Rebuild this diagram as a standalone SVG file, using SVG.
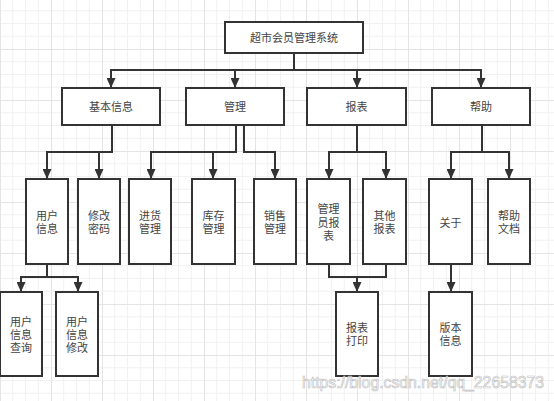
<svg xmlns="http://www.w3.org/2000/svg" width="554" height="401" viewBox="0 0 554 401">
<defs>
<pattern id="grid" patternUnits="userSpaceOnUse" x="0" y="-2" width="51" height="51">
<path d="M12.75,0V51M25.5,0V51M38.25,0V51M0,12.75H51M0,25.5H51M0,38.25H51" stroke="#f1f1f1" stroke-width="1" fill="none"/>
<path d="M0.5,0V51M0,0.5H51" stroke="#e4e4e4" stroke-width="1" fill="none"/>
</pattern>
<marker id="arr" markerUnits="userSpaceOnUse" markerWidth="10" markerHeight="9" refX="10" refY="4.5" orient="auto">
<path d="M0,0L10,4.5L0,9z" fill="#333"/>
</marker>
<style>
.box{fill:#fff;stroke:#333;stroke-width:2}
.t{font-family:"Liberation Sans","Noto Sans CJK SC",sans-serif;font-size:11px;fill:#444;text-anchor:middle}
.c{fill:none;stroke:#333;stroke-width:2}
.a{marker-end:url(#arr)}
.wm{font-family:"Liberation Sans",Arial,sans-serif;font-size:16px;fill:#fff;fill-opacity:0.5;stroke:#c4c4c4;stroke-width:0.7}
</style>
</defs>
<rect width="554" height="401" fill="#fff"/>
<rect width="554" height="401" fill="url(#grid)"/>

<g id="connectors">
<path class="c a" d="M294,53V70H111V88"/>
<path class="c a" d="M294,70H235V88"/>
<path class="c a" d="M294,70H357V88"/>
<path class="c a" d="M294,70H481V88"/>
<path class="c a" d="M112,125V152H47V179"/>
<path class="c a" d="M112,152H99V179"/>
<path class="c a" d="M236,125V152H151V179"/>
<path class="c a" d="M236,152H213V179"/>
<path class="c a" d="M244,125V152H275V179"/>
<path class="c a" d="M357,125V152H329V179"/>
<path class="c a" d="M357,152H386V179"/>
<path class="c a" d="M482,125V152H451V179"/>
<path class="c a" d="M482,152H509V179"/>
<path class="c a" d="M47,264V277H21V292"/>
<path class="c a" d="M47,277H78V292"/>
<path class="c" d="M329,264V277H386V264"/>
<path class="c a" d="M357,277V292"/>
<path class="c a" d="M451,264V292"/>
</g>

<g id="root"><rect class="box" x="225" y="22" width="138" height="31"/><text class="t" x="294" y="41.5">超市会员管理系统</text></g>

<g id="jbxx"><rect class="box" x="62" y="88" width="98" height="37"/><text class="t" x="111" y="110.5">基本信息</text></g>
<g id="gl"><rect class="box" x="186" y="88" width="98" height="37"/><text class="t" x="235" y="110.5">管理</text></g>
<g id="bb"><rect class="box" x="307" y="88" width="99" height="37"/><text class="t" x="356.5" y="110.5">报表</text></g>
<g id="bz"><rect class="box" x="432" y="88" width="98" height="37"/><text class="t" x="481" y="110.5">帮助</text></g>

<g id="yhxx"><rect class="box" x="26" y="179" width="42" height="85"/><text class="t" x="47" y="220">用户<tspan x="47" dy="13">信息</tspan></text></g>
<g id="xgmm"><rect class="box" x="78" y="179" width="42" height="85"/><text class="t" x="99" y="220">修改<tspan x="99" dy="13">密码</tspan></text></g>
<g id="jhgl"><rect class="box" x="129" y="179" width="42" height="85"/><text class="t" x="150" y="220">进货<tspan x="150" dy="13">管理</tspan></text></g>
<g id="kcgl"><rect class="box" x="192" y="179" width="43" height="85"/><text class="t" x="213.5" y="220">库存<tspan x="213.5" dy="13">管理</tspan></text></g>
<g id="xsgl"><rect class="box" x="254" y="179" width="42" height="85"/><text class="t" x="275" y="220">销售<tspan x="275" dy="13">管理</tspan></text></g>
<g id="glybb"><rect class="box" x="307" y="179" width="43" height="85"/><text class="t" x="328.5" y="213">管理<tspan x="328.5" dy="13.5">员报</tspan><tspan x="328.5" dy="13.5">表</tspan></text></g>
<g id="qtbb"><rect class="box" x="363" y="179" width="43" height="85"/><text class="t" x="384.5" y="220">其他<tspan x="384.5" dy="13">报表</tspan></text></g>
<g id="gy"><rect class="box" x="429" y="179" width="43" height="85"/><text class="t" x="450.5" y="226.5">关于</text></g>
<g id="bzwd"><rect class="box" x="488" y="179" width="42" height="85"/><text class="t" x="509" y="220">帮助<tspan x="509" dy="13">文档</tspan></text></g>

<g id="yhxxcx"><rect class="box" x="0" y="292" width="42" height="84"/><text class="t" x="21" y="326">用户<tspan x="21" dy="13">信息</tspan><tspan x="21" dy="13">查询</tspan></text></g>
<g id="yhxxxg"><rect class="box" x="56" y="292" width="42" height="84"/><text class="t" x="77" y="326">用户<tspan x="77" dy="13">信息</tspan><tspan x="77" dy="13">修改</tspan></text></g>
<g id="bbdy"><rect class="box" x="336" y="292" width="42" height="84"/><text class="t" x="357" y="332">报表<tspan x="357" dy="13">打印</tspan></text></g>
<g id="bbxx"><rect class="box" x="429" y="292" width="43" height="84"/><text class="t" x="450.5" y="332">版本<tspan x="450.5" dy="13">信息</tspan></text></g>

<text class="wm" x="302" y="388" textLength="242" lengthAdjust="spacingAndGlyphs">https://blog.csdn.net/qq_22658373</text>
</svg>
